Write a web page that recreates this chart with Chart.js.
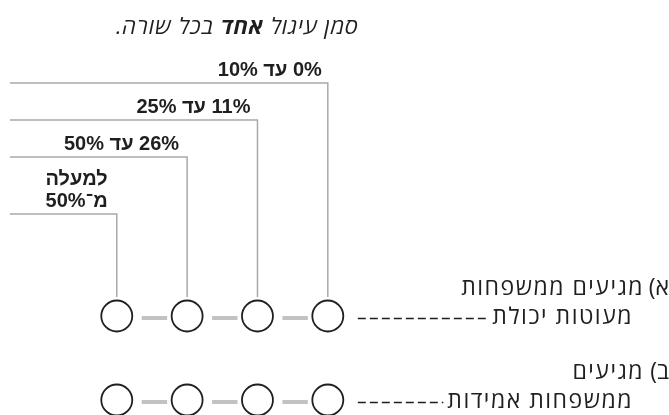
<!DOCTYPE html>
<html lang="he">
<head>
<meta charset="utf-8">
<script src="https://cdn.jsdelivr.net/npm/chart.js@4.4.1/dist/chart.umd.min.js"></script>
<style>
  html, body { margin: 0; padding: 0; background: #fff; }
  #wrap { width: 669px; height: 415px; }
</style>
</head>
<body>
<div id="wrap"><canvas id="scaleChart" width="669" height="415"></canvas></div>
<script>
// Question text and answer options (option 0 is the rightmost circle)
const titleParts = ["סמן עיגול ", "אחד", " בכל שורה."];
const optionLabels = [
  ["0% עד 10%"],
  ["11% עד 25%"],
  ["26% עד 50%"],
  ["למעלה", "מ־50%"]
];
const rowMarks = ["א)", "ב)"];
const rowTexts = [
  ["מגיעים ממשפחות", "מעוטות יכולת"],
  ["מגיעים", "ממשפחות אמידות"]
];

// Layout (in scale units: x = option index, y = px from top)
const layout = {
  xMin: -4.85,
  xMax: 4.66,
  lineLeft: 4.52,
  bracketY: [83, 120, 157, 214],
  stemEnd: 297,
  rowY: [316, 400],
  gapFromLeft: 0.355,
  gapFromRight: 0.284
};

const LINE_GREY = "#a9a9a9";
const LINK_GREY = "#c2c2c2";
const INK = "#1f1f1f";

// Bracket lines from the left edge over to each column, then down to row א
const bracketSets = optionLabels.map((_, i) => ({
  type: "line",
  data: [
    { x: layout.lineLeft, y: layout.bracketY[i] },
    { x: i, y: layout.bracketY[i] },
    { x: i, y: layout.stemEnd }
  ],
  borderColor: LINE_GREY,
  borderWidth: 1.5,
  pointRadius: 0,
  fill: false,
  tension: 0
}));

// Short grey links between neighbouring circles
const linkSets = [];
layout.rowY.forEach(y => {
  for (let i = 0; i < optionLabels.length - 1; i++) {
    linkSets.push({
      type: "line",
      data: [
        { x: i + layout.gapFromRight, y: y + 2 },
        { x: i + 1 - layout.gapFromLeft, y: y + 2 }
      ],
      borderColor: LINK_GREY,
      borderWidth: 4,
      borderCapStyle: "butt",
      pointRadius: 0,
      fill: false
    });
  }
});

// The answer circles
const circleSets = layout.rowY.map(y => ({
  type: "scatter",
  data: optionLabels.map((_, i) => ({ x: i, y })),
  pointRadius: 15.5,
  pointHoverRadius: 15.5,
  pointBorderWidth: 1.8,
  pointBorderColor: INK,
  pointBackgroundColor: "#fff"
}));

function rtlText(ctx, text, right, y, font, spacing) {
  ctx.font = font;
  ctx.letterSpacing = (spacing || 0) + "px";
  ctx.direction = "rtl";
  ctx.textAlign = "right";
  ctx.textBaseline = "middle";
  ctx.fillText(text, right, y);
  return right - ctx.measureText(text).width;
}

// Draws all the text and the dashed leaders
const textPlugin = {
  id: "textPlugin",
  afterDatasetsDraw(chart) {
    const { ctx, scales, chartArea } = chart;
    const xs = scales.x, ys = scales.y;
    ctx.save();
    ctx.fillStyle = INK;

    // title, with the bold word in the middle
    let tx = xs.getPixelForValue(0) + 31;
    titleParts.forEach((part, k) => {
      const f = (k === 1 ? "italic bold " : "italic ") + '22px "Open Sans", "DejaVu Sans", sans-serif';
      tx = rtlText(ctx, part, tx, ys.getPixelForValue(28), f, 1);
    });

    // option headers
    const hFont = 'bold 20px "Liberation Sans", Arial, sans-serif';
    optionLabels.forEach((lines, i) => {
      const right = xs.getPixelForValue(i) - 6 - i;
      const base = ys.getPixelForValue(layout.bracketY[i]) - 13;
      lines.forEach((line, j) => {
        const y = base - (lines.length - 1 - j) * 22;
        rtlText(ctx, line, right, y, hFont, 0);
      });
    });

    // row statements
    const bFont = '23px "Open Sans", "DejaVu Sans", sans-serif';
    rowTexts.forEach((lines, r) => {
      const y = ys.getPixelForValue(layout.rowY[r]);
      rtlText(ctx, rowMarks[r], chartArea.right, y - 28, bFont, 0);
      rtlText(ctx, lines[0], chartArea.right - 25, y - 28, bFont, 1.5);
      const left = rtlText(ctx, lines[1], chartArea.right - 36, y + 1, bFont, 1.5);

      // dashed leader from the last circle to the text
      ctx.beginPath();
      ctx.setLineDash([8, 4]);
      ctx.lineWidth = 1.6;
      ctx.strokeStyle = INK;
      ctx.moveTo(xs.getPixelForValue(0) + 30, y + 2.5);
      ctx.lineTo(left - 4, y + 2.5);
      ctx.stroke();
      ctx.setLineDash([]);
    });
    ctx.restore();
  }
};

new Chart(document.getElementById("scaleChart").getContext("2d"), {
  type: "scatter",
  data: { datasets: [...bracketSets, ...linkSets, ...circleSets] },
  options: {
    responsive: false,
    animation: false,
    layout: { padding: 0, autoPadding: false },
    scales: {
      x: { type: "linear", min: layout.xMin, max: layout.xMax, reverse: true, display: false },
      y: { type: "linear", min: 0, max: 415, reverse: true, display: false }
    },
    plugins: {
      legend: { display: false },
      tooltip: { enabled: false }
    },
    events: []
  },
  plugins: [textPlugin]
});
</script>
</body>
</html>
